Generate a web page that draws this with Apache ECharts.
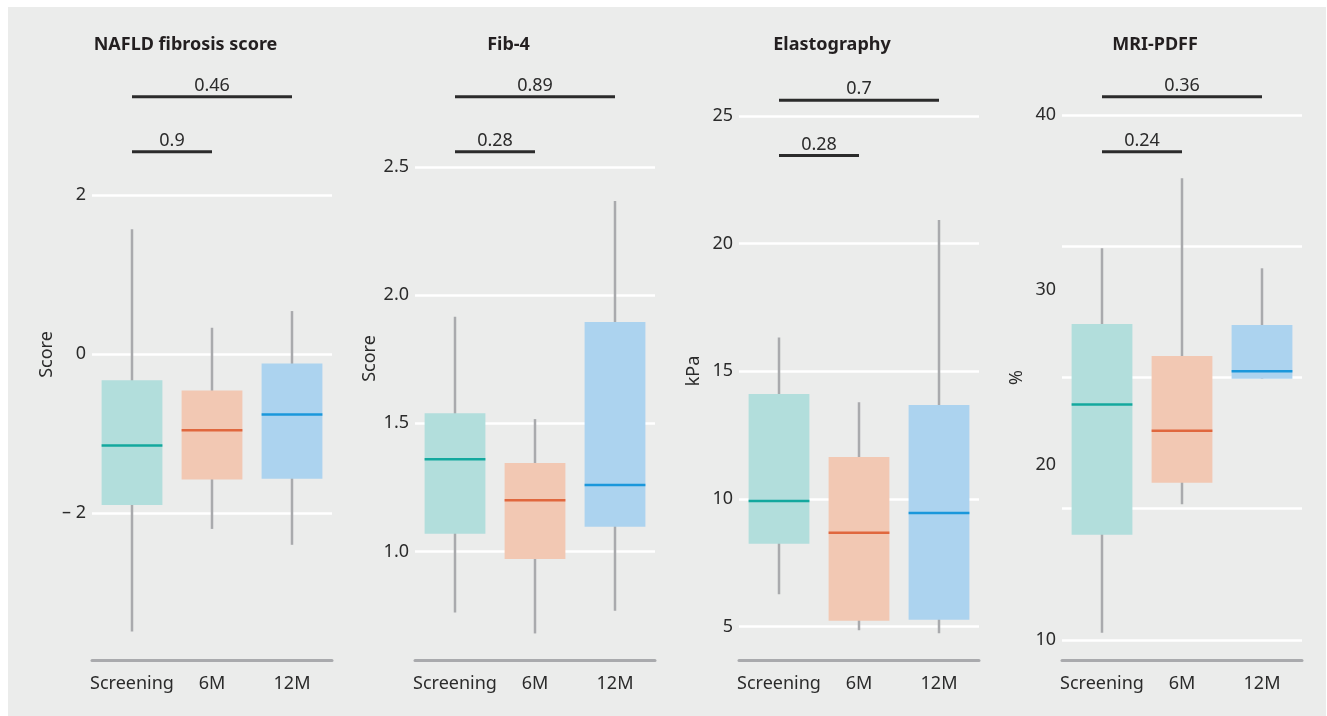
<!DOCTYPE html>
<html>
<head>
<meta charset="utf-8">
<script src="https://cdn.jsdelivr.net/npm/echarts@6/dist/echarts.min.js"></script>
<style>
html,body{margin:0;padding:0;background:#fff;}
#chart{width:1327px;height:716px;}
</style>
</head>
<body>
<div id="chart"></div>
<script>
// ---------- data ----------
const categories = ['Screening', '6M', '12M'];
const panelTitles = ['NAFLD fibrosis score', 'Fib-4', 'Elastography', 'MRI-PDFF'];
const axisNames = ['Score', 'Score', 'kPa', '%'];

// [lower whisker, Q1, median, Q3, upper whisker] per category
const nafldStats  = [[-3.49, -1.90, -1.15, -0.33, 1.57], [-2.20, -1.58, -0.96, -0.46, 0.33], [-2.40, -1.57, -0.76, -0.12, 0.54]];
const fib4Stats   = [[0.762, 1.069, 1.359, 1.539, 1.915], [0.680, 0.970, 1.199, 1.345, 1.516], [0.768, 1.096, 1.259, 1.895, 2.367]];
const elastoStats = [[6.27, 8.25, 9.92, 14.11, 16.33], [4.86, 5.23, 8.68, 11.65, 13.79], [4.74, 5.27, 9.45, 13.68, 20.93]];
const mriStats    = [[10.42, 16.02, 23.45, 28.06, 32.38], [17.75, 18.99, 21.96, 26.23, 36.38], [24.93, 24.93, 25.35, 28.00, 31.24]];

// p-values: [Screening vs 6M, Screening vs 12M]
const nafldP  = ['0.9', '0.46'];
const fib4P   = ['0.28', '0.89'];
const elastoP = ['0.28', '0.7'];
const mriP    = ['0.24', '0.36'];

// tick labels / grid lines
const nafldTicks  = [-2, 0, 2];
const fib4Ticks   = [1.0, 1.5, 2.0, 2.5];
const elastoTicks = [5, 10, 15, 20, 25];
const mriLabelTicks = [10, 20, 30, 40];
const mriGridTicks  = [10, 17.5, 25, 32.5, 40];

// ---------- layout / style ----------
const palette = [
  {fill: '#b2dedc', median: '#13a89e'},
  {fill: '#f2c8b3', median: '#e0673e'},
  {fill: '#acd3ef', median: '#1a97db'}
];
const FONT = 'Noto Sans';
const panels = [
  {stats: nafldStats, p: nafldP, labelTicks: nafldTicks, gridTicks: nafldTicks, min: -3.849, max: 3.698, levels: [2.545, 3.236],
   fmt: v => v < 0 ? '\u2013 ' + Math.abs(v) : String(v), left: 92, titleX: 185.5, namePad: [0, 0, 0, 11]},
  {stats: fib4Stats, p: fib4P, labelTicks: fib4Ticks, gridTicks: fib4Ticks, min: 0.5764, max: 2.9165, levels: [2.559, 2.773],
   fmt: v => v.toFixed(1), left: 415, titleX: 508.5, namePad: [0, 0, 0, 3]},
  {stats: elastoStats, p: elastoP, labelTicks: elastoTicks, gridTicks: elastoTicks, min: 3.694, max: 27.196, levels: [23.46, 25.62],
   fmt: v => String(v), left: 739, titleX: 832, namePad: [0, 22, 0, 0]},
  {stats: mriStats, p: mriP, labelTicks: mriLabelTicks, gridTicks: mriGridTicks, min: 8.857, max: 43.143, levels: [37.90, 41.05],
   fmt: v => String(v), left: 1062, titleX: 1155, namePad: [0, 35, 0, 0]}
];

const grids = [], xAxes = [], yAxes = [], series = [], titles = [];
panels.forEach((pn, i) => {
  grids.push({left: pn.left, top: 60, width: 240, height: 600});
  titles.push({
    text: panelTitles[i], left: pn.titleX, top: 36, textAlign: 'center', padding: 0,
    textStyle: {fontFamily: FONT, fontSize: 18, fontWeight: 'bold', color: '#231f20'}
  });
  xAxes.push({
    type: 'category', gridIndex: i, data: categories,
    axisLine: {onZero: false, lineStyle: {color: '#a9aaad', width: 3}},
    axisTick: {show: false},
    axisLabel: {interval: 0, hideOverlap: false, fontFamily: FONT, fontSize: 18, color: '#2b2b2b', margin: 15},
    splitLine: {show: false}
  });
  yAxes.push({
    type: 'value', gridIndex: i, min: pn.min, max: pn.max,
    name: axisNames[i], nameLocation: 'middle', nameGap: 36,
    nameTextStyle: {fontFamily: FONT, fontSize: 18, color: '#2b2b2b', padding: pn.namePad},
    axisLine: {show: false},
    axisTick: {show: false, customValues: pn.gridTicks},
    axisLabel: {customValues: pn.labelTicks, formatter: pn.fmt, fontFamily: FONT, fontSize: 18, color: '#2b2b2b', margin: 6},
    splitLine: {show: true, lineStyle: {color: '#ffffff', width: 2.5}}
  });
  // boxes
  series.push({
    type: 'custom', xAxisIndex: i, yAxisIndex: i,
    data: pn.stats.map((s, k) => [k].concat(s)),
    encode: {x: 0, y: [1, 2, 3, 4, 5]},
    renderItem: function (params, api) {
      const x = api.value(0);
      const lo = api.coord([x, api.value(1)]);
      const q1 = api.coord([x, api.value(2)]);
      const med = api.coord([x, api.value(3)]);
      const q3 = api.coord([x, api.value(4)]);
      const hi = api.coord([x, api.value(5)]);
      const w = api.size([1, 0])[0] * 0.76;
      const c = palette[params.dataIndex];
      return {
        type: 'group', children: [
          {type: 'line', shape: {x1: lo[0], y1: lo[1], x2: hi[0], y2: hi[1]}, style: {stroke: '#a9aaad', lineWidth: 2.5}},
          {type: 'rect', shape: {x: q3[0] - w / 2, y: q3[1], width: w, height: q1[1] - q3[1]}, style: {fill: c.fill}},
          {type: 'line', shape: {x1: med[0] - w / 2, y1: med[1], x2: med[0] + w / 2, y2: med[1]}, style: {stroke: c.median, lineWidth: 2.5}}
        ]
      };
    }
  });
  // significance brackets
  series.push({
    type: 'custom', xAxisIndex: i, yAxisIndex: i, clip: false,
    data: [[0, 1, pn.levels[0]], [0, 2, pn.levels[1]]],
    encode: {x: [0, 1], y: 2},
    renderItem: function (params, api) {
      const a = api.coord([api.value(0), api.value(2)]);
      const b = api.coord([api.value(1), api.value(2)]);
      return {
        type: 'group', children: [
          {type: 'line', shape: {x1: a[0], y1: a[1], x2: b[0], y2: b[1]}, style: {stroke: '#2b2b2b', lineWidth: 3}},
          {type: 'text', x: (a[0] + b[0]) / 2, y: a[1] - 2,
           style: {text: pn.p[params.dataIndex], textAlign: 'center', textVerticalAlign: 'bottom',
                   fontFamily: FONT, fontSize: 18, fill: '#2b2b2b'}}
        ]
      };
    }
  });
});

const chart = echarts.init(document.getElementById('chart'));
chart.setOption({
  backgroundColor: '#ffffff',
  animation: false,
  graphic: [{type: 'rect', z: -10, shape: {x: 8, y: 7, width: 1318, height: 709}, style: {fill: '#ebeceb'}}],
  title: titles,
  grid: grids,
  xAxis: xAxes,
  yAxis: yAxes,
  series: series
});
</script>
</body>
</html>
